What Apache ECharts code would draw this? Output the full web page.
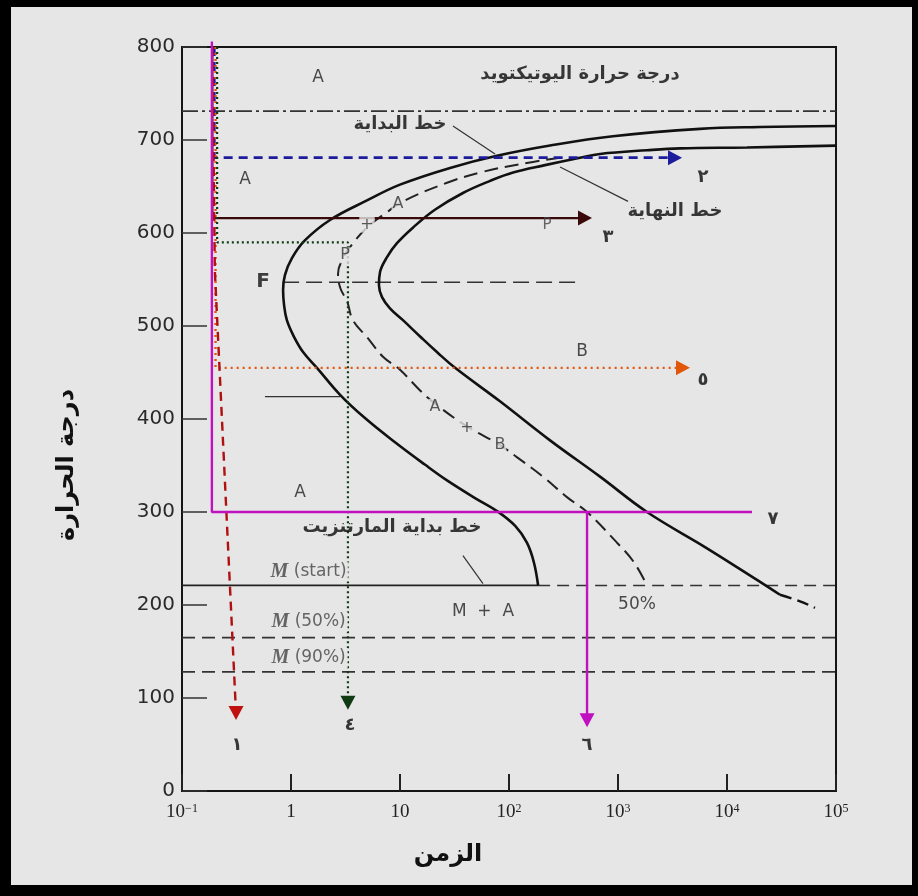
<!DOCTYPE html>
<html><head><meta charset="utf-8">
<script src="https://cdn.jsdelivr.net/npm/echarts@6/dist/echarts.min.js"></script>
<style>html,body{margin:0;padding:0;background:#e6e6e6}#c{width:918px;height:896px}</style>
</head><body><div id="c"></div>
<script>
// ---- data (time in s on log axis, temperature in °C) ----
const xTickValues = [0.1, 1, 10, 100, 1000, 10000, 100000];
const xTickLabels = ['10{s|−1}', '1', '10', '10{s|2}', '10{s|3}', '10{s|4}', '10{s|5}'];
const yTickValues = [0, 100, 200, 300, 400, 500, 600, 700, 800];

const eutectoidT = 731;
const msT = 221, m50T = 165, m90T = 128, fLineT = 547;

const startCurve = [[100000,715],[20090,714],[5650,712],[899,704],[238,694],[77.6,683],[28.8,670],[10,652],[4.98,635],[2.28,614],[1.34,592],[1.02,573],[0.881,555],[0.846,539],[0.863,523],[0.918,506],[1.07,488],[1.29,472],[1.73,455],[2.82,426],[4.77,401],[9.0,375],[16.9,351],[27.0,334],[48.8,315],[77.6,301],[114,285],[146,267],[169,246],[185,221]];
const finishCurve = [[100000,694],[15240,692],[3707,691],[1845,689],[684,685],[448,681],[214,673],[109,665],[67,656],[37.8,643],[20.9,625],[13.2,606],[9.38,589],[7.60,574],[6.56,558],[6.41,544],[6.84,531],[8.09,519],[10.7,506],[15.2,489],[21.8,472],[32.0,455],[82.6,419],[238,377],[684,338],[1845,300],[6556,261],[18840,227],[30620,211]];
const finishTail = [[30620,211],[46770,204],[64120,197]];
const fiftyCurve = [[294,681],[126,674],[54.2,665],[27,654],[11.1,635],[7.3,621],[4.98,606],[3.71,589],[3.0,573],[2.70,556],[2.85,540],[3.26,527],[3.71,506],[4.98,488],[6.98,467],[10,453],[15.2,431],[21.8,415],[41.2,392],[82.6,372],[118,359],[205,338],[340,316],[520,300],[979,267],[1400,246],[1845,221]];
const fLine = [[0.846,fLineT],[421,fLineT]];
const leaderLines = [
  [[30.6,715],[74.5,685]],
  [[294,671],[1236,634]],
  [[0.577,424],[2.82,424]],
  [[37.8,253],[57.7,223]]
];

// cooling paths
const path1 = [[0.19,800],[0.2,560],[0.313,84]];             // red dashed
const path2 = [[0.198,800],[0.198,681],[3334,681]];          // blue dashed
const path3 = [[0.19,800],[0.19,616],[498,616]];             // brown solid
const path4 = [[0.21,800],[0.21,590],[3.33,590],[3.33,95]];  // green dotted
const path5 = [[0.203,800],[0.203,455],[3946,455]];          // orange dotted
const path7 = [[0.188,806],[0.188,300],[16940,300]];         // magenta
const path6 = [[520,300],[520,76]];                          // magenta drop
const arrowHeads = [
  [0.313,84,180,'#c01010'],
  [3334,681,-90,'#1c1c9c'],
  [498,616,-90,'#3a0a0a'],
  [3.33,95,180,'#0f3a12'],
  [3946,455,-90,'#e0560a'],
  [520,76,180,'#c010c0']
];

// text labels: [time, temp, text, style]
const labels = [
  [1.77,767,'A','a'],
  [448,771,'درجة حرارة اليوتيكتويد','ar'],
  [0.379,657,'A','a'],
  [10,717,'خط البداية','ar'],
  [3334,623,'خط النهاية','ar'],
  [6030,660,'٢','num'],
  [809,595,'٣','num'],
  [223,609,'P','aThin'],
  [9.59,631,'A','aMask'],
  [4.98,609,'+','aMask'],
  [3.13,576,'P','aMask'],
  [0.553,547,'F','f'],
  [468,472,'B','a'],
  [6030,442,'٥','num'],
  [20.9,413,'A','aMask'],
  [41.2,390,'+','aMask'],
  [82.6,372,'B','aMask'],
  [1.21,321,'A','a'],
  [8.45,284,'خط بداية المارتنزيت','ar'],
  [26400,292,'٧','num'],
  [1.45,236,'{i|M} (start)','m'],
  [57.7,193,'M  +  A','a'],
  [1493,200,'50%','a'],
  [1.45,182,'{i|M} (50%)','m'],
  [1.45,143,'{i|M} (90%)','m'],
  [0.32,49,'١','num'],
  [3.48,71,'٤','num'],
  [520,49,'٦','num']
];

const labelStyles = {
  a: {fontFamily:'DejaVu Sans', fontSize:17, color:'#222'},
  aThin: {fontFamily:'DejaVu Sans', fontSize:15, color:'#444'},
  aMask: {fontFamily:'DejaVu Sans', fontSize:16, color:'#333', backgroundColor:'#e6e6e6', padding:[0,1]},
  ar: {fontFamily:'DejaVu Sans', fontWeight:'bold', fontSize:18, color:'#0a0a0a'},
  num: {fontFamily:'DejaVu Sans', fontWeight:'bold', fontSize:18, color:'#0a0a0a'},
  f: {fontFamily:'DejaVu Sans', fontWeight:'bold', fontSize:20, color:'#111'},
  m: {fontFamily:'DejaVu Sans', fontSize:17, color:'#444', backgroundColor:'#e6e6e6', padding:[0,2],
      rich:{i:{fontFamily:'Liberation Serif', fontStyle:'italic', fontWeight:'bold', fontSize:20, color:'#444'}}}
};

function lineSeries(data, color, width, type, smooth){
  return {type:'line', data:data, showSymbol:false, symbol:'none', smooth:smooth||false,
    lineStyle:{color:color, width:width, type:type||'solid'}, silent:true, z:2, clip:false};
}

const series = [
  lineSeries([[0.1,eutectoidT],[100000,eutectoidT]], '#333', 1.6, [16,4,3,4]),
  lineSeries([[0.1,msT],[185,msT]], '#222', 1.8, 'solid'),
  lineSeries([[185,msT],[100000,msT]], '#333', 1.6, [12,7]),
  lineSeries([[0.1,m50T],[100000,m50T]], '#333', 1.8, [13,7]),
  lineSeries([[0.1,m90T],[100000,m90T]], '#333', 1.8, [13,7]),
  lineSeries(fLine, '#333', 1.6, [16,7]),
  lineSeries(startCurve, '#111', 2.6, 'solid', 0.4),
  lineSeries(finishCurve, '#111', 2.6, 'solid', 0.4),
  lineSeries(finishTail, '#111', 2.4, [12,6], 0.3),
  lineSeries(fiftyCurve, '#222', 2.0, [14,7], 0.4)
];
leaderLines.forEach(l => series.push(lineSeries(l, '#333', 1.2, 'solid')));
series.push(
  lineSeries(path3, '#3a0a0a', 2.2, 'solid'),
  lineSeries(path2, '#1c1c9c', 2.6, [9,6]),
  lineSeries(path5, '#e0560a', 2.4, [2,4]),
  lineSeries(path4, '#0f3a12', 2.2, [2,3]),
  lineSeries(path1, '#b01010', 2.4, [9,6]),
  lineSeries(path7, '#c010c0', 2.4, 'solid'),
  lineSeries(path6, '#c010c0', 2.4, 'solid')
);
series.push({
  type:'scatter', silent:true, z:5,
  data: arrowHeads.map(a => ({value:[a[0],a[1]], symbolRotate:a[2], itemStyle:{color:a[3], opacity:1}})),
  symbol:'triangle', symbolSize:[15,14]
});
series.push({
  type:'scatter', silent:true, z:6, symbolSize:1, itemStyle:{color:'rgba(0,0,0,0)'},
  data: labels.map(l => ({value:[l[0],l[1]],
    label:Object.assign({show:true, position:'inside', formatter:l[2]}, labelStyles[l[3]])}))
});

const chart = echarts.init(document.getElementById('c'), null, {renderer:'canvas'});
chart.setOption({
  animation:false,
  backgroundColor:'#e6e6e6',
  grid:{left:182, right:82, top:47, bottom:105, show:true, borderColor:'#151515', borderWidth:2, backgroundColor:'transparent'},
  xAxis:{type:'log', logBase:10, min:0.1, max:100000,
    axisLine:{lineStyle:{color:'#151515', width:2}},
    axisTick:{inside:true, length:17, lineStyle:{color:'#222', width:2}},
    splitLine:{show:false}, minorTick:{show:false},
    axisLabel:{margin:12, color:'#222', fontFamily:'Liberation Serif', fontSize:19,
      formatter:function(v){const i = xTickValues.findIndex(t => Math.abs(Math.log10(t)-Math.log10(v))<1e-6); return i>=0?xTickLabels[i]:'';},
      rich:{s:{fontFamily:'Liberation Serif', fontSize:12, verticalAlign:'top', color:'#222', padding:[0,0,7,0]}}}
  },
  yAxis:{type:'value', min:0, max:800, interval:100,
    axisLine:{show:true, lineStyle:{color:'#151515', width:2}},
    axisTick:{show:true, inside:true, length:25, lineStyle:{color:'#333', width:1.5}},
    splitLine:{show:false},
    axisLabel:{margin:7, color:'#2a2a2a', fontFamily:'DejaVu Sans', fontSize:20,
      formatter:function(v){return yTickValues.indexOf(v)>=0?String(v):'';}}
  },
  graphic:[
    {type:'rect', shape:{x:0,y:0,width:11,height:896}, style:{fill:'#000'}, z:100},
    {type:'rect', shape:{x:0,y:0,width:918,height:7}, style:{fill:'#000'}, z:100},
    {type:'rect', shape:{x:912,y:0,width:6,height:896}, style:{fill:'#000'}, z:100},
    {type:'rect', shape:{x:0,y:885,width:918,height:11}, style:{fill:'#000'}, z:100},
    {type:'text', x:67, y:465, rotation:Math.PI/2, z:50,
      style:{text:'درجة الحرارة', fontFamily:'DejaVu Sans', fontWeight:'bold', fontSize:24, fill:'#111', align:'center', verticalAlign:'middle'}},
    {type:'text', x:448, y:855, z:50,
      style:{text:'الزمن', fontFamily:'DejaVu Sans', fontWeight:'bold', fontSize:24, fill:'#111', align:'center', verticalAlign:'middle'}}
  ],
  series:series
});
</script>
</body></html>
